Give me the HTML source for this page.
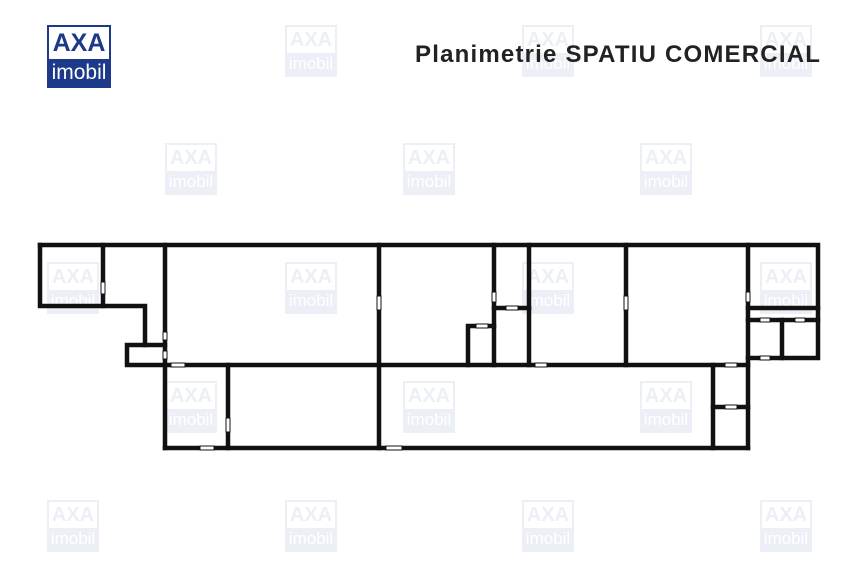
<!DOCTYPE html>
<html><head><style>
body{margin:0;width:858px;height:576px;background:#fff;position:relative;overflow:hidden;font-family:"Liberation Sans",sans-serif}
.wm{position:absolute;width:52px;height:52px;opacity:.11}
.lg{position:absolute;border:2px solid #1d3a8a;box-sizing:border-box;background:#1d3a8a}
.lg .t{background:#fff;color:#1d3a8a;font-weight:bold;text-align:center}
.lg .b{color:#fff;text-align:center}
</style></head><body>
<div id="w"></div>
<div class="lg" style="left:47px;top:25px;width:64px;height:63px">
<div class="t" style="height:32px;font-size:25px;line-height:32px">AXA</div>
<div class="b" style="font-size:21px;line-height:27px">imobil</div></div>
<div style="position:absolute;left:415px;top:41px;font-size:24px;color:#222;font-weight:bold;letter-spacing:1.2px;white-space:nowrap">Planimetrie SPATIU COMERCIAL</div>
<svg width="858" height="576" style="position:absolute;left:0;top:0">
<g stroke="#111" stroke-width="4.5" fill="none" stroke-linecap="square">
<polyline points="40,245 818,245 818,358 748,358"/>
<polyline points="40,245 40,306 145,306 145,345 127,345 127,365 748,365"/>
<line x1="103" y1="245" x2="103" y2="306"/>
<line x1="165" y1="245" x2="165" y2="448"/>
<line x1="165" y1="448" x2="748" y2="448"/>
<line x1="228" y1="365" x2="228" y2="448"/>
<line x1="379" y1="245" x2="379" y2="448"/>
<line x1="494" y1="245" x2="494" y2="365"/>
<line x1="529" y1="245" x2="529" y2="365"/>
<line x1="626" y1="245" x2="626" y2="365"/>
<line x1="748" y1="245" x2="748" y2="448"/>
<line x1="494" y1="308" x2="529" y2="308"/>
<polyline points="468,365 468,326 494,326"/>
<line x1="748" y1="308" x2="818" y2="308"/>
<line x1="748" y1="320" x2="818" y2="320"/>
<line x1="782" y1="320" x2="782" y2="358"/>
<line x1="713" y1="365" x2="713" y2="448"/>
<line x1="713" y1="407" x2="748" y2="407"/>
<line x1="145" y1="345" x2="165" y2="345"/>
</g>
<g fill="#fff" stroke="#111" stroke-width="1">
<rect x="101" y="282" width="4" height="12"/>
<rect x="163" y="332" width="4" height="8"/>
<rect x="163" y="351" width="4" height="8"/>
<rect x="171" y="363" width="14" height="4"/>
<rect x="226" y="418" width="4" height="14"/>
<rect x="200" y="446" width="14" height="4"/>
<rect x="377" y="296" width="4" height="14"/>
<rect x="386" y="446" width="16" height="4"/>
<rect x="492" y="292" width="4" height="10"/>
<rect x="506" y="306" width="12" height="4"/>
<rect x="476" y="324" width="12" height="4"/>
<rect x="535" y="363" width="12" height="4"/>
<rect x="624" y="296" width="4" height="14"/>
<rect x="746" y="292" width="4" height="10"/>
<rect x="760" y="318" width="10" height="4"/>
<rect x="795" y="318" width="10" height="4"/>
<rect x="760" y="356" width="10" height="4"/>
<rect x="725" y="363" width="12" height="4"/>
<rect x="725" y="405" width="12" height="4"/>
</g>
</svg>
<script>
var p=[[47,25],[285,25],[522,25],[760,25],[165,143],[403,143],[640,143],[47,262],[285,262],[522,262],[760,262],[165,381],[403,381],[640,381],[47,500],[285,500],[522,500],[760,500]],h='';
p.forEach(function(q,i){if(i==0)return;h+='<div class="lg wm" style="left:'+q[0]+'px;top:'+q[1]+'px;width:52px;height:52px;border-color:#5a78b8;background:#5a78b8"><div class="t" style="height:26px;font-size:20px;line-height:26px;color:#5a78b8">AXA</div><div class="b" style="font-size:17px;line-height:22px">imobil</div></div>';});
document.getElementById('w').innerHTML=h;
</script>
</body></html>
